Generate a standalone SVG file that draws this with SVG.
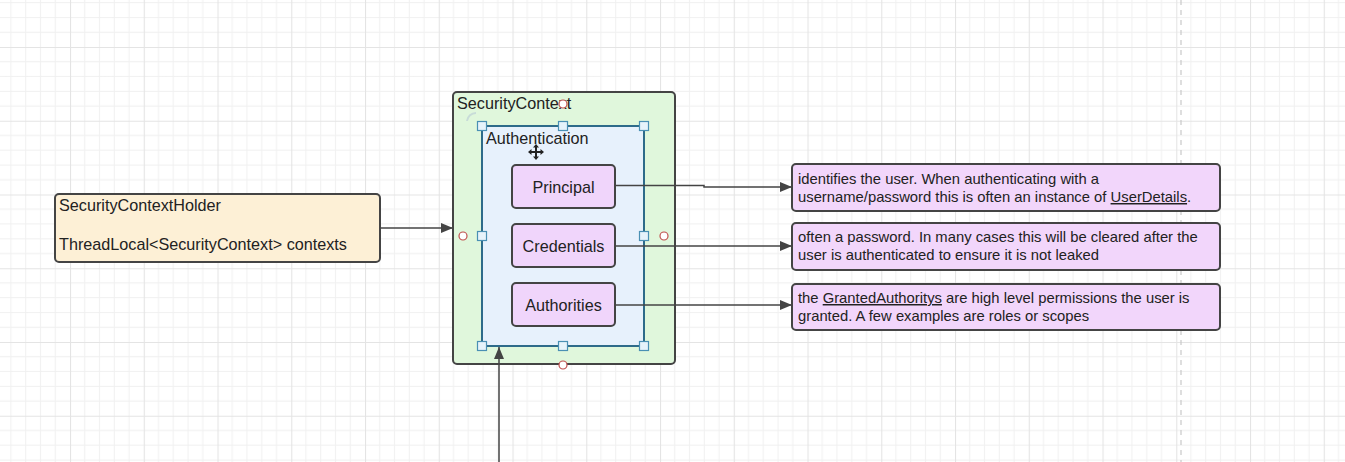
<svg xmlns="http://www.w3.org/2000/svg" width="1345" height="462" viewBox="0 0 1345 462">
<style>
text{font-family:"Liberation Sans",Arial,sans-serif;fill:#222}
.t16{font-size:16.2px}
.t14{font-size:14.8px}
.box{stroke:#444;stroke-width:2}
.conn{stroke:#444;stroke-width:1.5;fill:none}
.handle{fill:#e6f3fb;stroke:#4a90b4;stroke-width:1.2}
.cp{fill:#fff;stroke:#c0504d;stroke-width:1.2}
.ul{text-decoration:underline}
</style>
<defs>
<pattern id="grid" patternUnits="userSpaceOnUse" x="-3.75" y="-26.75" width="73.75" height="73.75">
<path d="M14.75 0V73.75M29.5 0V73.75M44.25 0V73.75M59 0V73.75M0 14.75H73.75M0 29.5H73.75M0 44.25H73.75M0 59H73.75" stroke="#f0f0f0" stroke-width="1" fill="none"/>
<path d="M0.5 0V73.75M0 0.5H73.75" stroke="#e4e4e4" stroke-width="1.2" fill="none"/>
</pattern>
<marker id="arr" markerWidth="12" markerHeight="10" refX="12" refY="5" orient="auto" markerUnits="userSpaceOnUse">
<path d="M0 0L12 5L0 10z" fill="#444"/>
</marker>
</defs>
<rect width="1345" height="462" fill="#fff"/>
<rect width="1345" height="462" fill="url(#grid)"/>
<line x1="1181" y1="0" x2="1181" y2="462" stroke="#c8c8c8" stroke-width="1.2" stroke-dasharray="5,5"/>

<g id="holder">
<rect class="box" x="55" y="194" width="325" height="68" rx="4" fill="#fdf0d6"/>
<text class="t16" x="59" y="211">SecurityContextHolder</text>
<text class="t16" x="59" y="250">ThreadLocal&lt;SecurityContext&gt; contexts</text>
</g>

<g id="securitycontext">
<rect class="box" x="453" y="92" width="222" height="272" rx="4" fill="#e0f7dc"/>
<text class="t16" x="457" y="109">SecurityContext</text>
</g>

<g id="authentication">
<rect x="482" y="126" width="162" height="220" fill="#e7f1fc" stroke="#2e6b8a" stroke-width="2"/>
<text class="t16" x="486" y="144">Authentication</text>
</g>

<g id="principal">
<rect class="box" x="512" y="165" width="103" height="43" rx="4" fill="#f0d5fb"/>
<text class="t16" x="563.5" y="193" text-anchor="middle">Principal</text>
</g>
<g id="credentials">
<rect class="box" x="512" y="224" width="103" height="43" rx="4" fill="#f0d5fb"/>
<text class="t16" x="563.5" y="252" text-anchor="middle">Credentials</text>
</g>
<g id="authorities">
<rect class="box" x="512" y="283" width="103" height="43" rx="4" fill="#f0d5fb"/>
<text class="t16" x="563.5" y="311" text-anchor="middle">Authorities</text>
</g>

<g id="note-principal">
<rect class="box" x="792" y="164" width="428" height="47" rx="4" fill="#f2d6fb"/>
<text class="t14" x="798" y="184">identifies the user. When authenticating with a</text>
<text class="t14" x="798" y="202">username/password this is often an instance of <tspan class="ul">UserDetails</tspan>.</text>
</g>
<g id="note-credentials">
<rect class="box" x="792" y="223" width="428" height="47" rx="4" fill="#f2d6fb"/>
<text class="t14" x="798" y="242">often a password. In many cases this will be cleared after the</text>
<text class="t14" x="798" y="260">user is authenticated to ensure it is not leaked</text>
</g>
<g id="note-authorities">
<rect class="box" x="792" y="284" width="428" height="46" rx="4" fill="#f2d6fb"/>
<text class="t14" x="798" y="303">the <tspan class="ul">GrantedAuthoritys</tspan> are high level permissions the user is</text>
<text class="t14" x="798" y="321">granted. A few examples are roles or scopes</text>
</g>

<g id="connectors">
<line class="conn" x1="380" y1="228" x2="453" y2="228" marker-end="url(#arr)"/>
<polyline class="conn" points="615,185.5 704,185.5 704,187 792,187" marker-end="url(#arr)"/>
<line class="conn" x1="615" y1="246" x2="792" y2="246" marker-end="url(#arr)"/>
<line class="conn" x1="615" y1="305" x2="792" y2="305" marker-end="url(#arr)"/>
<line class="conn" x1="499" y1="462" x2="499" y2="347" marker-end="url(#arr)"/>
</g>

<g id="selection">
<rect class="handle" x="477.5" y="121.5" width="9" height="9"/>
<rect class="handle" x="558.5" y="121.5" width="9" height="9"/>
<rect class="handle" x="639.5" y="121.5" width="9" height="9"/>
<rect class="handle" x="477.5" y="231.5" width="9" height="9"/>
<rect class="handle" x="639.5" y="231.5" width="9" height="9"/>
<rect class="handle" x="477.5" y="341.5" width="9" height="9"/>
<rect class="handle" x="558.5" y="341.5" width="9" height="9"/>
<rect class="handle" x="639.5" y="341.5" width="9" height="9"/>
<circle class="cp" cx="563" cy="104" r="4"/>
<circle class="cp" cx="463" cy="236" r="4"/>
<circle class="cp" cx="664" cy="236" r="4"/>
<circle class="cp" cx="563" cy="365" r="4"/>
<path d="M467 121 A9 9 0 0 1 476 113" stroke="#c8dcd8" stroke-width="2" fill="none"/>
<g id="cursor" fill="#222" stroke="none">
<rect x="535" y="146" width="2" height="12"/>
<rect x="530" y="151" width="12" height="2"/>
<path d="M536 144L533 147.5H539z M536 160L533 156.5H539z M528 152L531.5 149V155z M544 152L540.5 149V155z"/>
</g>
</g>
</svg>
